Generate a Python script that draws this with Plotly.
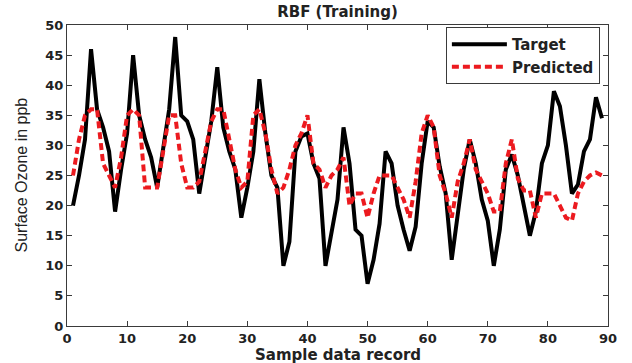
import plotly.graph_objects as go

sample = list(range(1, 90))

target = [20, 25, 31, 46, 36, 33, 29, 19, 26, 32,
          45, 35, 31, 28, 23, 29, 36, 48, 35, 34,
          31, 22, 28, 34, 43, 33, 29, 26, 18, 23,
          29, 41, 32, 25, 23, 10, 14, 29, 31.5, 32,
          27, 24.5, 10, 16, 21, 33, 27, 16, 15, 7,
          11, 17, 29, 27, 20, 16, 12.5, 16.5, 27, 34,
          33, 26.5, 22, 11, 19, 26, 31, 27, 21, 17.5,
          10, 16, 26, 28.5, 25, 20, 15, 19, 27, 30,
          39, 36.5, 30, 22, 23.5, 29, 31, 38, 34.5]

predicted = [25, 31, 35, 36, 36, 27, 25, 23, 28, 35,
             36, 35, 23, 23, 23, 29, 35, 35, 27, 23,
             23, 24, 29, 34, 36, 36, 31, 26, 23, 24,
             35, 36, 32, 26, 22, 23, 26, 30, 32, 35,
             27, 26, 23, 25, 26, 28, 20, 22, 22, 18,
             22, 25, 25, 25, 23, 21, 18, 24, 32, 35,
             33, 25, 22, 18, 24, 27, 31, 26, 24, 22,
             19, 19, 27, 31, 24.5, 22.5, 22.5, 18, 22, 22,
             22, 20, 18, 17.5, 22, 24, 25, 25.5, 25]

x_ticks = [0, 10, 20, 30, 40, 50, 60, 70, 80, 90]
y_ticks = [0, 5, 10, 15, 20, 25, 30, 35, 40, 45, 50]

BOLD = "DejaVu Sans, Liberation Sans, sans-serif"
REG = "Liberation Sans, Arial, sans-serif"

fig = go.Figure()
fig.add_trace(go.Scatter(x=sample, y=target, mode="lines", name="Target",
                         line=dict(color="black", width=4)))
fig.add_trace(go.Scatter(x=sample, y=predicted, mode="lines", name="Predicted",
                         line=dict(color="#ec1a1f", width=4, dash="7px,4px")))

axis_common = dict(showline=True, linecolor="#3a3a3a", linewidth=1, mirror="ticks",
                   ticks="inside", ticklen=5, tickcolor="#3a3a3a",
                   showgrid=False, zeroline=False,
                   tickfont=dict(family=BOLD, size=13, color="#222222", weight="bold"))

fig.update_xaxes(range=[0, 90], tickvals=x_ticks, **axis_common)
fig.update_yaxes(range=[0, 50], tickvals=y_ticks, **axis_common)

fig.update_layout(
    width=632, height=363,
    margin=dict(l=67, r=24, t=25, b=37),
    paper_bgcolor="white", plot_bgcolor="white",
    showlegend=True,
    legend=dict(x=0.985, y=0.993, xanchor="right", yanchor="top",
                bgcolor="white", bordercolor="#3a3a3a", borderwidth=1,
                font=dict(family=BOLD, size=15, color="#222222", weight="bold"),
                tracegroupgap=0, itemwidth=55),
    title=dict(text="RBF (Training)", x=0.5, xref="paper", xanchor="center",
               y=1 - 12 / 363, yref="container", yanchor="middle",
               font=dict(family=BOLD, size=15, color="#222222", weight="bold")),
    annotations=[
        dict(text="Sample data record", xref="paper", yref="paper",
             x=0.5, y=-(355 - 326) / 301, xanchor="center", yanchor="middle",
             showarrow=False,
             font=dict(family=BOLD, size=15, color="#222222", weight="bold")),
        dict(text="Surface Ozone in ppb", xref="paper", yref="paper",
             x=-(67 - 21) / 541, y=0.5, xanchor="center", yanchor="middle",
             textangle=-90, showarrow=False,
             font=dict(family=REG, size=16, color="#222222")),
    ],
)

fig.write_html("out.html", config={"displayModeBar": False},
               post_script="document.body.style.margin='0';")
